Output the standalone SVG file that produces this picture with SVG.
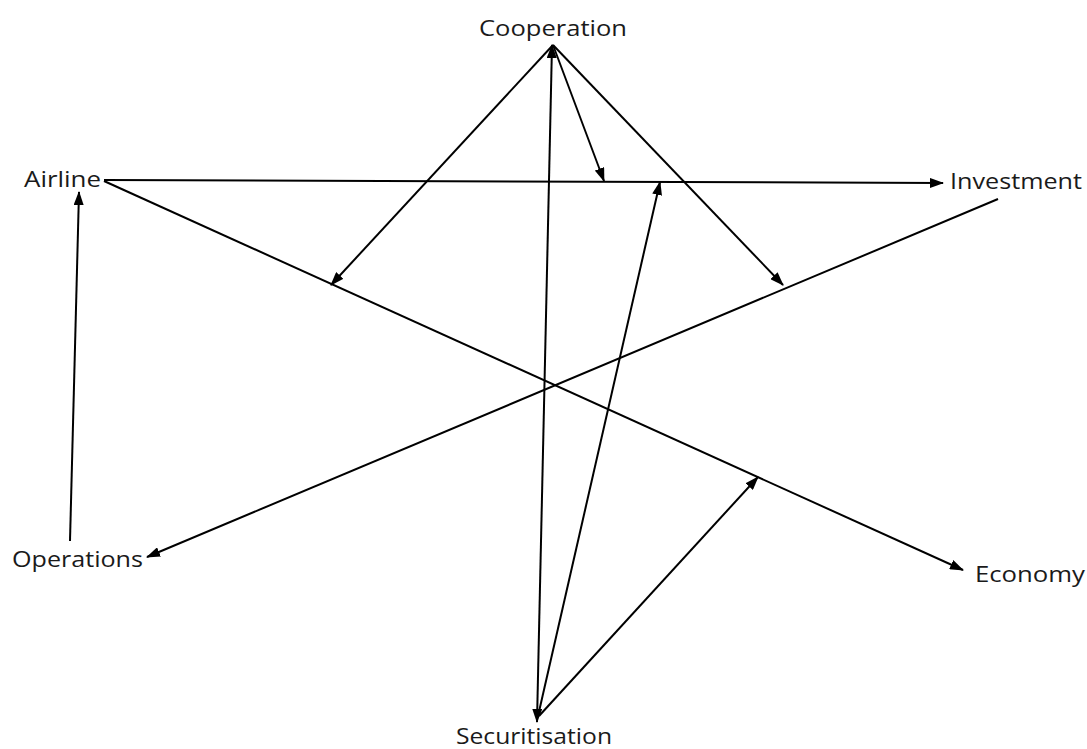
<svg xmlns="http://www.w3.org/2000/svg" width="1087" height="749" viewBox="0 0 1087 749">
<style>
.lbl{font-family:"Open Sans","Liberation Sans",Arial,sans-serif;font-size:21px;fill:#1a1a1a}
.c{stroke:#000;stroke-width:2;fill:none}
</style>
<defs>
<marker id="ah" viewBox="0 0 14 10" refX="13" refY="5" markerWidth="14" markerHeight="10" markerUnits="userSpaceOnUse" orient="auto-start-reverse">
<path d="M0,0 L14,5 L0,10 Z" fill="#000"/>
</marker>
</defs>
<rect width="1087" height="749" fill="#fff"/>
<g id="connectors">
<line class="c" x1="553" y1="45" x2="331" y2="285" marker-end="url(#ah)"/>
<line class="c" x1="553" y1="45" x2="604" y2="181" marker-end="url(#ah)"/>
<line class="c" x1="553" y1="45" x2="783" y2="285" marker-end="url(#ah)"/>
<line class="c" x1="537" y1="722" x2="552" y2="45" marker-end="url(#ah)" marker-start="url(#ah)"/>
<line class="c" x1="538" y1="716" x2="660" y2="182" marker-end="url(#ah)"/>
<line class="c" x1="539" y1="716" x2="758" y2="477" marker-end="url(#ah)"/>
<line class="c" x1="104" y1="180" x2="943" y2="183" marker-end="url(#ah)"/>
<line class="c" x1="104" y1="181" x2="963" y2="570" marker-end="url(#ah)"/>
<line class="c" x1="998" y1="199" x2="147" y2="557" marker-end="url(#ah)"/>
<line class="c" x1="70" y1="541" x2="79" y2="192" marker-end="url(#ah)"/>
</g>
<g id="node-cooperation"><text class="lbl" x="553" y="36" text-anchor="middle" textLength="148" lengthAdjust="spacingAndGlyphs">Cooperation</text></g>
<g id="node-airline"><text class="lbl" x="24" y="187" textLength="77" lengthAdjust="spacingAndGlyphs">Airline</text></g>
<g id="node-investment"><text class="lbl" x="950" y="189" textLength="132" lengthAdjust="spacingAndGlyphs">Investment</text></g>
<g id="node-operations"><text class="lbl" x="12" y="567" textLength="131" lengthAdjust="spacingAndGlyphs">Operations</text></g>
<g id="node-economy"><text class="lbl" x="975" y="582" textLength="110" lengthAdjust="spacingAndGlyphs">Economy</text></g>
<g id="node-securitisation"><text class="lbl" x="534" y="744" text-anchor="middle" textLength="156" lengthAdjust="spacingAndGlyphs">Securitisation</text></g>
</svg>
